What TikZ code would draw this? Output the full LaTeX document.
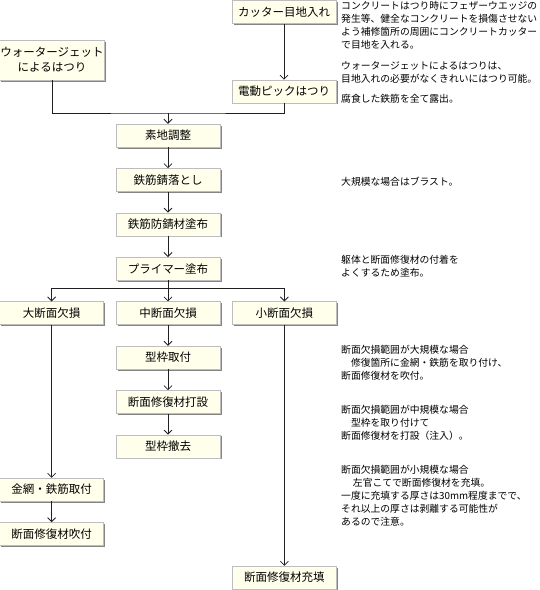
\documentclass[tikz,border=0pt]{standalone}
\usepackage{fontspec}
\setmainfont{Noto Sans CJK JP}
\usetikzlibrary{positioning, arrows.meta, shadows}

\definecolor{boxfill}{HTML}{FFFFEC}
\definecolor{boxline}{HTML}{BDBDBD}
\definecolor{boxshadow}{HTML}{858585}
\definecolor{lineclr}{HTML}{202020}

\tikzset{
  stepbox/.style={rectangle, draw=boxline, fill=boxfill, minimum width=104pt, minimum height=23pt,
    inner sep=1pt, align=center, font=\fontsize{11.5}{15}\selectfont,
    drop shadow={shadow xshift=1.5pt, shadow yshift=-1.5pt, fill=boxshadow, opacity=1}},
  note/.style={anchor=north west, inner sep=0pt, align=left, font=\fontsize{9.8}{13}\selectfont},
  link/.style={draw=lineclr, line width=0.8pt},
  flow/.style={link, -{Straight Barb[length=4pt,width=8pt]}}
}

\begin{document}
\begin{tikzpicture}[x=1pt, y=-1pt, node distance=21pt and 12pt]
    \useasboundingbox (0,0) rectangle (540,590);

    % top: preparation of the surface
    \node [stepbox] (cutter) at (284,12) {カッター目地入れ};
    \node [stepbox, below=56pt of cutter] (pick) {電動ピックはつり};
    \node [stepbox, minimum height=40pt] (wj) at (52,60) {ウォータージェット\\によるはつり};
    \coordinate (j1) at (168,113);

    % main chain
    \node [stepbox] (soji) at (168,135.5) {素地調整};
    \node [stepbox, below=of soji] (sabi) {鉄筋錆落とし};
    \node [stepbox, below=of sabi] (bousei) {鉄筋防錆材塗布};
    \node [stepbox, below=of bousei] (primer) {プライマー塗布};
    \coordinate (j2) at (168,288);

    % three kinds of section loss
    \node [stepbox, below=of primer] (mid) {中断面欠損};
    \node [stepbox, left=of mid] (big) {大断面欠損};
    \node [stepbox, right=of mid] (small) {小断面欠損};

    \node [stepbox, below=of mid] (katawaku) {型枠取付};
    \node [stepbox, below=of katawaku] (dasetsu) {断面修復材打設};
    \node [stepbox, below=of dasetsu] (tekkyo) {型枠撤去};

    \node [stepbox, below=153pt of big] (kanaami) {金網・鉄筋取付};
    \node [stepbox, below=of kanaami] (fukitsuke) {断面修復材吹付};

    \node [stepbox, below=241pt of small] (juten) {断面修復材充填};

    % notes on the right
    \node [note] (nCutter) at (341,1) {コンクリートはつり時にフェザーウエッジの\\発生等、健全なコンクリートを損傷させない\\よう補修箇所の周囲にコンクリートカッター\\で目地を入れる。};
    \node [note] (nWj) at (341,61) {ウォータージェットによるはつりは、\\目地入れの必要がなくきれいにはつり可能。};
    \node [note] (nPick) at (341,94) {腐食した鉄筋を全て露出。};
    \node [note] (nSabi) at (341,177) {大規模な場合はブラスト。};
    \node [note] (nPrimer) at (341,255.5) {躯体と断面修復材の付着を\\よくするため塗布。};
    \node [note] (nBig) at (341,345) {断面欠損範囲が大規模な場合\\\hspace*{1em}修復箇所に金網・鉄筋を取り付け、\\断面修復材を吹付。};
    \node [note] (nMid) at (341,405) {断面欠損範囲が中規模な場合\\\hspace*{1em}型枠を取り付けて\\断面修復材を打設（注入）。};
    \node [note] (nSmall) at (341,465) {断面欠損範囲が小規模な場合\\\hspace*{1.2em}左官こてで断面修復材を充填。\\一度に充填する厚さは30mm程度までで、\\それ以上の厚さは剥離する可能性が\\あるので注意。};

    % connectors
    \draw [flow] (cutter) -- (pick);
    \draw [link] (wj.south) |- (j1) -| (pick.south);
    \draw [flow] (j1) -- (soji);
    \draw [flow] (soji) -- (sabi);
    \draw [flow] (sabi) -- (bousei);
    \draw [flow] (bousei) -- (primer);
    \draw [link] (primer) -- (j2);
    \draw [flow] (j2) -| (big);
    \draw [flow] (j2) -- (mid);
    \draw [flow] (j2) -| (small);
    \draw [flow] (mid) -- (katawaku);
    \draw [flow] (katawaku) -- (dasetsu);
    \draw [flow] (dasetsu) -- (tekkyo);
    \draw [flow] (big) -- (kanaami);
    \draw [flow] (kanaami) -- (fukitsuke);
    \draw [flow] (small) -- (juten);
\end{tikzpicture}
\end{document}
